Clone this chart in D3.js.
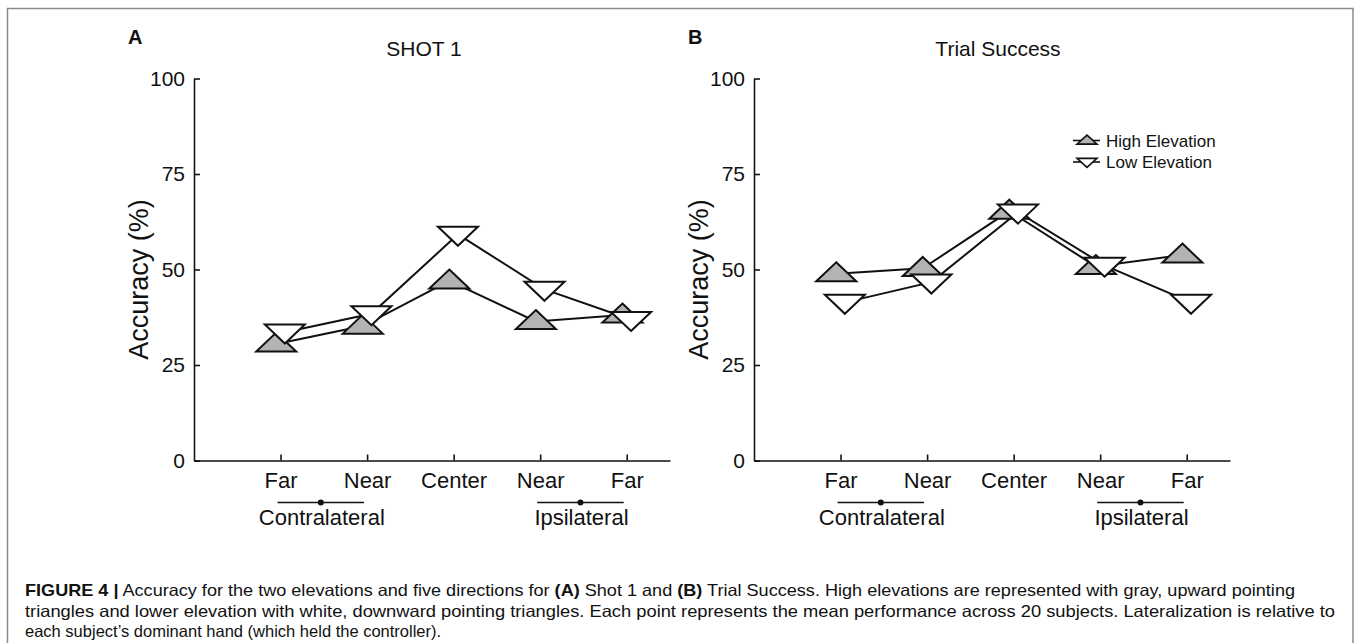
<!DOCTYPE html>
<meta charset="utf-8">
<style>
body { margin: 0; background: #fff; }
text { font-family: "Liberation Sans", Arial, Helvetica, sans-serif; fill: #111; }
.axis path, .axis line { stroke: #111; stroke-width: 1.6px; }
.axis text { font-size: 22px; fill: #111; font-family: "Liberation Sans", Arial, sans-serif; }
.series { fill: none; stroke: #111; stroke-width: 2px; }
.marker { stroke: #111; stroke-width: 2px; }
</style>
<svg width="1360" height="643"></svg>
<script src="https://d3js.org/d3.v7.min.js"></script>
<script>

// directions on the x axis
var directions = ["Far", "Near", "Center", "Near", "Far"];
var yTicks = [0, 25, 50, 75, 100];

// panel A : Shot 1
var shotHigh = [30.5, 35.2, 47.0, 36.4, 38.1];
var shotLow  = [33.6, 38.4, 59.2, 44.8, 36.9];
// panel B : Trial Success
var trialHigh = [48.9, 50.3, 65.3, 50.8, 53.8];
var trialLow  = [41.4, 46.7, 65.0, 51.1, 41.4];

var sides = [
  {label: "Contralateral", from: 1, to: 2},
  {label: "Ipsilateral", from: 4, to: 5}
];

var panels = [
  {letter: "A", title: "SHOT 1", left: 194, titleX: 230, high: shotHigh, low: shotLow, legend: false},
  {letter: "B", title: "Trial Success", left: 754, titleX: 244, high: trialHigh, low: trialLow, legend: true}
];

var svg = d3.select("svg");

// frame
svg.append("rect")
    .attr("x", 7.5).attr("y", 8.5)
    .attr("width", 1345.5).attr("height", 700)
    .attr("fill", "none").attr("stroke", "#8a8a8a").attr("stroke-width", 1.5);

var plotTop = 78.5, w = 476, h = 382;

var x = d3.scaleLinear().domain([0, 5.5]).range([0, w]);
var y = d3.scaleLinear().domain([0, 100]).range([h, 0]);

// triangles, point sits a bit below middle of the box
function tri(tw, th, up) {
  var a = up ? -th * 0.6 : th * 0.6, b = up ? th * 0.4 : -th * 0.4;
  return "M0," + a + "L" + (tw / 2) + "," + b + "L" + (-tw / 2) + "," + b + "Z";
}

var jitter = 0.05;

panels.forEach(function(p) {
  var g = svg.append("g").attr("transform", "translate(" + p.left + "," + plotTop + ")");

  g.append("text")
      .attr("x", -66).attr("y", -35)
      .attr("font-weight", "bold").style("font-size", "20px")
      .text(p.letter);

  g.append("text")
      .attr("x", p.titleX).attr("y", -23)
      .attr("text-anchor", "middle").style("font-size", "21px")
      .text(p.title);

  g.append("g").attr("class", "axis")
      .call(d3.axisLeft(y).tickValues(yTicks).tickSizeInner(-6).tickSizeOuter(0).tickPadding(9))
      .selectAll("text").style("font-size", "21px");

  g.append("g").attr("class", "axis")
      .attr("transform", "translate(0," + h + ")")
      .call(d3.axisBottom(x).tickValues([1, 2, 3, 4, 5])
        .tickFormat(function(d) { return directions[d - 1]; })
        .tickSizeInner(-6).tickSizeOuter(0).tickPadding(12));

  g.append("text")
      .attr("transform", "translate(-46," + (h / 2 + 10) + ") rotate(-90)")
      .attr("text-anchor", "middle").style("font-size", "27px")
      .text("Accuracy (%)");

  // contra / ipsi brackets
  var sg = g.selectAll(".side").data(sides).enter().append("g").attr("class", "side");
  sg.append("line")
      .attr("x1", function(d) { return x(d.from) - 3; })
      .attr("x2", function(d) { return x(d.to) - 3; })
      .attr("y1", h + 42).attr("y2", h + 42)
      .attr("stroke", "#111").attr("stroke-width", 1.3);
  sg.append("circle")
      .attr("cx", function(d) { return (x(d.from) + x(d.to)) / 2 - 3; })
      .attr("cy", h + 42).attr("r", 3).attr("fill", "#111");
  sg.append("text")
      .attr("x", function(d) { return (x(d.from) + x(d.to)) / 2 - 2; })
      .attr("y", h + 64.5)
      .attr("text-anchor", "middle").style("font-size", "22px")
      .text(function(d) { return d.label; });

  var series = [
    {vals: p.high, up: true, fill: "#b3b3b3", dx: -jitter},
    {vals: p.low, up: false, fill: "#ffffff", dx: jitter}
  ];

  series.forEach(function(s) {
    var line = d3.line()
        .x(function(d, i) { return x(i + 1 + s.dx); })
        .y(function(d) { return y(d); });
    g.append("path").attr("class", "series").attr("d", line(s.vals));
  });
  series.forEach(function(s) {
    g.selectAll(null).data(s.vals).enter().append("path")
        .attr("class", "marker")
        .attr("fill", s.fill)
        .attr("transform", function(d, i) { return "translate(" + x(i + 1 + s.dx) + "," + y(d) + ")"; })
        .attr("d", tri(40, 19, s.up));
  });

  if (p.legend) {
    var items = [{name: "High Elevation", up: true, fill: "#b3b3b3"},
                 {name: "Low Elevation", up: false, fill: "#ffffff"}];
    var lg = g.selectAll(".leg").data(items).enter().append("g")
        .attr("transform", function(d, i) { return "translate(333," + (62 + i * 21.5) + ")"; });
    lg.append("line").attr("x1", -14).attr("x2", 13).attr("y1", 0).attr("y2", 0)
        .attr("stroke", "#111").attr("stroke-width", 1.6);
    lg.append("path").attr("class", "marker")
        .style("stroke-width", "1.6px")
        .attr("fill", function(d) { return d.fill; })
        .attr("d", function(d) { return tri(20, 9, d.up); });
    lg.append("text").attr("x", 19).attr("y", 6)
        .style("font-size", "17px").text(function(d) { return d.name; });
  }
});

// caption
var caption = [
  [["FIGURE 4 |", true], [" Accuracy for the two elevations and five directions for ", false], ["(A)", true],
   [" Shot 1 and ", false], ["(B)", true], [" Trial Success. High elevations are represented with gray, upward pointing", false]],
  [["triangles and lower elevation with white, downward pointing triangles. Each point represents the mean performance across 20 subjects. Lateralization is relative to", false]],
  [["each subject\u2019s dominant hand (which held the controller).", false]]
];
var capLen = [1270, 1310, null];
caption.forEach(function(parts, i) {
  var t = svg.append("text")
      .attr("x", 25).attr("y", 596 + i * 20.5)
      .style("font-size", "16.5px");
  if (capLen[i]) t.attr("textLength", capLen[i]).attr("lengthAdjust", "spacingAndGlyphs");
  parts.forEach(function(pt) {
    t.append("tspan").attr("font-weight", pt[1] ? "bold" : null).text(pt[0]);
  });
});

</script>
